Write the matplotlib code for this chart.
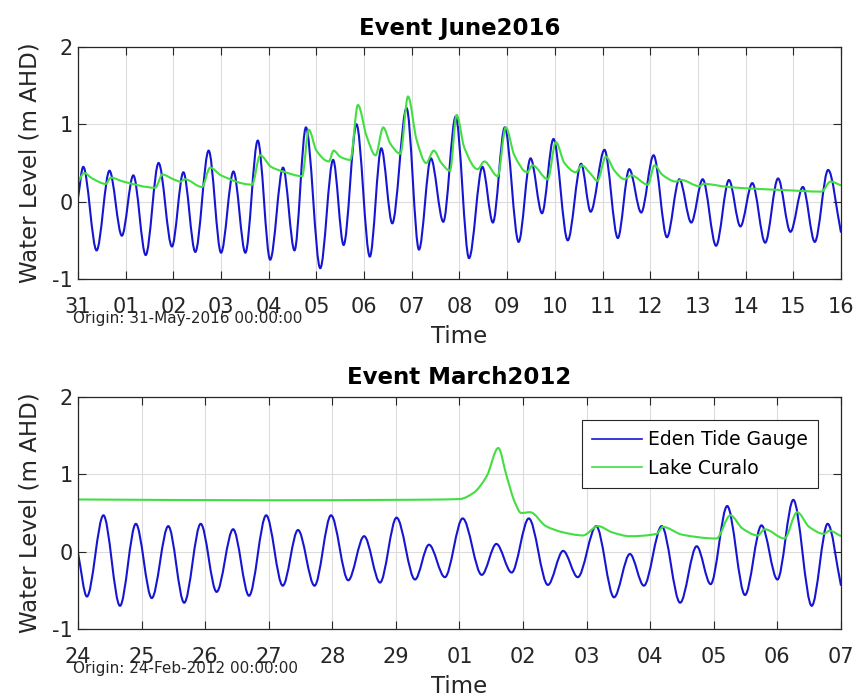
import numpy as np
import matplotlib
matplotlib.use("Agg")
import matplotlib.pyplot as plt
from matplotlib.path import Path
from matplotlib.patches import PathPatch

# ---- data (days since origin, water level m AHD) ----
# Event June2016, origin 31-May-2016 00:00:00
june_ticks = ['31', '01', '02', '03', '04', '05', '06', '07', '08',
              '09', '10', '11', '12', '13', '14', '15', '16']
june_eden_t = [0.00, 0.11, 0.39, 0.66, 0.92, 1.16, 1.42, 1.69, 1.97, 2.21,
               2.46, 2.74, 3.00, 3.26, 3.51, 3.77, 4.03, 4.30, 4.54, 4.78,
               5.08, 5.35, 5.57, 5.84, 6.12, 6.36, 6.59, 6.89, 7.15, 7.40,
               7.66, 7.92, 8.20, 8.48, 8.70, 8.95, 9.24, 9.49, 9.73, 9.97,
               10.27, 10.55, 10.75, 11.04, 11.32, 11.56, 11.81, 12.07, 12.35,
               12.61, 12.86, 13.10, 13.38, 13.65, 13.89, 14.14, 14.41, 14.68,
               14.94, 15.20, 15.45, 15.73, 16.00]
june_eden_v = [0.05, 0.45, -0.63, 0.40, -0.44, 0.34, -0.69, 0.50, -0.58, 0.38,
               -0.65, 0.66, -0.66, 0.39, -0.66, 0.79, -0.75, 0.44, -0.63, 0.96,
               -0.86, 0.54, -0.56, 1.00, -0.71, 0.69, -0.28, 1.21, -0.62, 0.56,
               -0.26, 1.10, -0.73, 0.45, -0.27, 0.96, -0.52, 0.56, -0.15, 0.81,
               -0.50, 0.49, -0.13, 0.67, -0.47, 0.42, -0.14, 0.60, -0.46,
               0.29, -0.27, 0.29, -0.57, 0.28, -0.32, 0.24, -0.53, 0.30,
               -0.39, 0.19, -0.52, 0.41, -0.40]
june_lake_t = [0.00, 0.13, 0.30, 0.58, 0.69, 0.95, 1.62, 1.77, 2.00, 2.15,
               2.24, 2.60, 2.77, 3.00, 3.65, 3.82, 4.05, 4.30, 4.70, 4.84,
               5.00, 5.26, 5.36, 5.50, 5.71, 5.87, 6.05, 6.24, 6.40, 6.55,
               6.76, 6.92, 7.10, 7.30, 7.46, 7.62, 7.80, 7.94, 8.10, 8.38,
               8.52, 8.80, 8.97, 9.15, 9.42, 9.53, 9.85, 10.02, 10.20, 10.44,
               10.56, 10.75, 10.89, 11.07, 11.25, 11.46, 11.60, 11.95, 12.09,
               12.25, 12.54, 12.65, 13.03, 13.12, 13.63, 14.10, 14.80, 15.59,
               15.78, 16.00]
june_lake_v = [0.25, 0.37, 0.30, 0.23, 0.31, 0.26, 0.18, 0.35, 0.29, 0.26,
               0.29, 0.19, 0.44, 0.34, 0.22, 0.60, 0.45, 0.39, 0.33, 0.93,
               0.66, 0.52, 0.66, 0.58, 0.54, 1.25, 0.85, 0.60, 0.96, 0.75,
               0.62, 1.36, 0.80, 0.50, 0.66, 0.50, 0.40, 1.12, 0.70, 0.42,
               0.52, 0.33, 0.96, 0.60, 0.38, 0.47, 0.29, 0.77, 0.50, 0.38,
               0.47, 0.36, 0.27, 0.58, 0.40, 0.29, 0.34, 0.22, 0.47,
               0.35, 0.26, 0.28, 0.20, 0.23, 0.19, 0.17, 0.15, 0.13,
               0.26, 0.21]

# Event March2012, origin 24-Feb-2012 00:00:00
march_ticks = ['24', '25', '26', '27', '28', '29', '01', '02', '03',
               '04', '05', '06', '07']
march_eden_t = [0.00, 0.14, 0.40, 0.66, 0.91, 1.16, 1.42, 1.67, 1.93, 2.18,
                2.44, 2.69, 2.96, 3.22, 3.46, 3.72, 3.98, 4.25, 4.50, 4.75,
                5.01, 5.30, 5.52, 5.77, 6.05, 6.35, 6.58, 6.82, 7.09, 7.39,
                7.63, 7.86, 8.15, 8.43, 8.68, 8.90, 9.18, 9.47, 9.73, 9.95,
                10.21, 10.49, 10.75, 11.00, 11.25, 11.54, 11.79, 12.00]
march_eden_v = [-0.02, -0.58, 0.47, -0.70, 0.36, -0.60, 0.33, -0.66, 0.36, -0.52,
                0.29, -0.57, 0.47, -0.44, 0.28, -0.44, 0.47, -0.37, 0.20, -0.40,
                0.44, -0.36, 0.09, -0.33, 0.43, -0.30, 0.10, -0.27, 0.43, -0.43,
                0.01, -0.33, 0.33, -0.59, -0.03, -0.44, 0.33, -0.66, 0.07, -0.42,
                0.59, -0.56, 0.34, -0.36, 0.67, -0.70, 0.36, -0.44]
march_lake_t = [0.00, 3.00, 5.00, 6.00, 6.22, 6.43, 6.61, 6.74, 6.87, 6.97,
                7.11, 7.36, 7.63, 7.94, 8.18, 8.40, 8.68, 9.10, 9.20, 9.50,
                10.04, 10.26, 10.45, 10.69, 10.80, 11.11, 11.31, 11.50, 11.73,
                11.82, 12.00]
march_lake_v = [0.675, 0.665, 0.67, 0.68, 0.76, 0.98, 1.34, 0.98, 0.64, 0.50,
                0.51, 0.33, 0.25, 0.21, 0.33, 0.25, 0.20, 0.23, 0.32, 0.22,
                0.17, 0.47, 0.30, 0.21, 0.29, 0.17, 0.51, 0.32, 0.23,
                0.27, 0.20]

eden_color = '#1515d2'
lake_color = '#42de42'


def smooth_path(t, v):
    # smooth curve through the read points (monotone cubic, drawn as Bezier)
    t = np.asarray(t, float)
    v = np.asarray(v, float)
    h = np.diff(t)
    d = np.diff(v) / h
    m = np.zeros_like(v)
    m[0], m[-1] = d[0], d[-1]
    for i in range(1, len(v) - 1):
        if d[i - 1] * d[i] > 0:
            w1 = 2 * h[i] + h[i - 1]
            w2 = h[i] + 2 * h[i - 1]
            m[i] = (w1 + w2) / (w1 / d[i - 1] + w2 / d[i])
    verts = [(t[0], v[0])]
    codes = [Path.MOVETO]
    for i in range(len(v) - 1):
        verts += [(t[i] + h[i] / 3, v[i] + m[i] * h[i] / 3),
                  (t[i + 1] - h[i] / 3, v[i + 1] - m[i + 1] * h[i] / 3),
                  (t[i + 1], v[i + 1])]
        codes += [Path.CURVE4] * 3
    return Path(verts, codes)


def draw_event(ax, title, ticks, origin, et, ev, lt, lv):
    ax.add_patch(PathPatch(smooth_path(et, ev), fc='none', ec=eden_color, lw=1.5))
    ax.add_patch(PathPatch(smooth_path(lt, lv), fc='none', ec=lake_color, lw=1.5))
    ax.plot([], [], color=eden_color, lw=1.2, label='Eden Tide Gauge')
    ax.plot([], [], color=lake_color, lw=1.2, label='Lake Curalo')

    ax.set_xlim(0, len(ticks) - 1)
    ax.set_ylim(-1, 2)
    ax.set_xticks(range(len(ticks)))
    ax.set_xticklabels(ticks)
    ax.set_yticks([-1, 0, 1, 2])
    ax.set_yticklabels(['-1', '0', '1', '2'])
    ax.grid(True, color='#dcdcdc', lw=0.8)
    ax.set_axisbelow(True)
    ax.tick_params(direction='in', length=6, width=0.8, top=True, right=True,
                   labelsize=15, color='#262626', labelcolor='#262626')
    ax.tick_params(axis='x', pad=13)
    ax.tick_params(axis='y', pad=4)
    for s in ax.spines.values():
        s.set_color('#262626')
        s.set_linewidth(0.9)

    ax.set_title(title, fontsize=16.5, fontweight='bold', pad=9)
    ax.set_xlabel('Time', fontsize=16.5, color='#262626')
    ax.set_ylabel('Water Level (m AHD)', fontsize=16.5, color='#262626')
    ax.xaxis.set_label_coords(0.5, -0.2)
    ax.yaxis.set_label_coords(-0.048, 0.5)
    ax.text(-0.007, -0.137, 'Origin: ' + origin, transform=ax.transAxes,
            ha='left', va='top', fontsize=11, color='#262626')


fig = plt.figure(figsize=(8.54, 7.0), dpi=100)
ax1 = fig.add_axes([78 / 854, 1 - 279 / 700, 763 / 854, 232 / 700])
ax2 = fig.add_axes([78 / 854, 1 - 629 / 700, 763 / 854, 232 / 700])

draw_event(ax1, 'Event June2016', june_ticks, '31-May-2016 00:00:00',
           june_eden_t, june_eden_v, june_lake_t, june_lake_v)
draw_event(ax2, 'Event March2012', march_ticks, '24-Feb-2012 00:00:00',
           march_eden_t, march_eden_v, march_lake_t, march_lake_v)

leg = ax2.legend(loc='upper right', bbox_to_anchor=(0.9695, 0.901),
                 borderaxespad=0, fontsize=13.5, fancybox=False, framealpha=1,
                 handlelength=2.65, handletextpad=0.32, labelspacing=0.5,
                 borderpad=0.55)
leg.get_frame().set_edgecolor('#262626')
leg.get_frame().set_linewidth(0.8)

fig.savefig('out.png', dpi=100)
